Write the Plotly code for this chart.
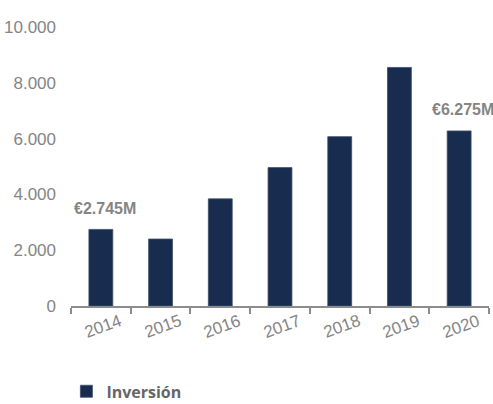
import plotly.graph_objects as go

# Inversión anual (miles de €)
years = ["2014", "2015", "2016", "2017", "2018", "2019", "2020"]
inversion = [2745, 2400, 3840, 4960, 6070, 8550, 6275]

# Valores destacados con etiqueta
highlight_years = ["2014", "2020"]
highlight_text = ["€2.745M", "€6.275M"]

y_ticks = [0, 2000, 4000, 6000, 8000, 10000]
y_tick_text = ["0", "2.000", "4.000", "6.000", "8.000", "10.000"]

BAR = "#172c4e"
GREY = "#858585"
FONT = "Liberation Sans, Arial, sans-serif"

fig = go.Figure()
fig.add_trace(go.Bar(
    x=years, y=inversion, name="Inversión",
    marker=dict(color=BAR, line=dict(color="#3f4f6b", width=0.8)),
    width=0.4,
))

annotations = []
for yr, txt in zip(highlight_years, highlight_text):
    i = years.index(yr)
    annotations.append(dict(
        x=i, y=inversion[i], xref="x", yref="y", text=txt, showarrow=False,
        xshift=4, yshift=21, font=dict(family=FONT, size=16, color=GREY, weight="bold"),
    ))

# Etiquetas del eje X inclinadas, centradas bajo cada barra
for i, yr in enumerate(years):
    annotations.append(dict(
        x=i, y=0, xref="x", yref="y", text=yr, showarrow=False,
        textangle=-20, xshift=2, yshift=-20,
        font=dict(family=FONT, size=17, color=GREY),
    ))

fig.update_layout(
    width=493, height=404,
    margin=dict(l=71, r=4, t=27, b=98, autoexpand=False),
    paper_bgcolor="white", plot_bgcolor="white",
    showlegend=True,
    legend=dict(
        x=-0.011, y=-0.245, xanchor="left", yanchor="top",
        orientation="h", borderwidth=0,
        font=dict(family="Open Sans, sans-serif", size=16, color="#666666", weight="bold"),
    ),
    annotations=annotations,
)
fig.update_xaxes(
    type="category", range=[-0.5, 6.5],
    showline=True, linecolor="#8c8c8c", linewidth=1.5,
    ticks="outside", tickson="boundaries", ticklen=6, tickcolor="#8c8c8c", tickwidth=1.5,
    showticklabels=False, showgrid=False, zeroline=False,
)
fig.update_yaxes(
    range=[0, 10000],
    tickvals=y_ticks, ticktext=y_tick_text,
    tickfont=dict(family=FONT, size=17, color=GREY),
    ticklabelstandoff=14,
    showgrid=False, zeroline=False, showline=False,
)

fig.write_html("out.html")
